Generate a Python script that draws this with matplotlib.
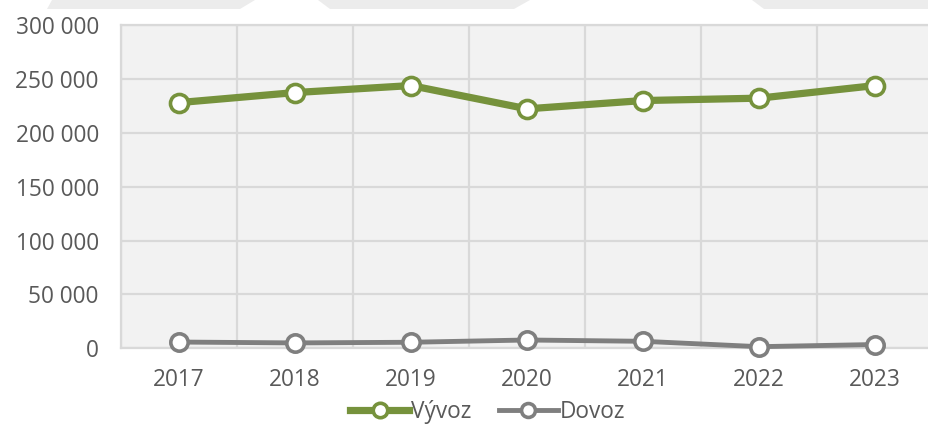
import matplotlib.pyplot as plt
from matplotlib.patches import Polygon
from matplotlib.ticker import FuncFormatter

years = ["2017", "2018", "2019", "2020", "2021", "2022", "2023"]
vyvoz = [228000, 237300, 243800, 222200, 229900, 232100, 243800]
dovoz = [5800, 5000, 5600, 7700, 6500, 1500, 3500]
y_ticks = [0, 50000, 100000, 150000, 200000, 250000, 300000]

GREEN = "#76923c"
GREY = "#7f7f7f"
TEXT = "#595959"

plt.rcParams["font.family"] = ["Open Sans", "DejaVu Sans"]

W, H = 929, 426
fig = plt.figure(figsize=(W / 100, H / 100), dpi=100)

# light decorative band at the very top (cut-off background)
band = "#ececec"
for xs in [(47, 240, 255, 52), (330, 514, 530, 318), (764, 929, 929, 752)]:
    x0, x1, x1t, x0t = xs
    pts = [(x0 / W, 1 - 9 / H), (x1 / W, 1 - 9 / H), (x1t / W, 1.0), (x0t / W, 1.0)]
    fig.patches.append(Polygon(pts, closed=True, transform=fig.transFigure,
                               facecolor=band, edgecolor="none"))

left, right = 121 / W, 933 / W
bottom, top = 1 - 348.3 / H, 1 - 25 / H
ax = fig.add_axes([left, bottom, right - left, top - bottom])
ax.set_facecolor("#f2f2f2")

x = list(range(len(years)))
ax.plot(x, vyvoz, color=GREEN, lw=5.2, marker="o", ms=13, mfc="white",
        mec=GREEN, mew=2.6, label="Vývoz", zorder=3, clip_on=False)
ax.plot(x, dovoz, color=GREY, lw=3.5, marker="o", ms=12.5, mfc="white",
        mec=GREY, mew=2.6, label="Dovoz", zorder=3, clip_on=False)

ax.set_xlim(-0.5, len(years) - 0.5)
ax.set_ylim(0, 300000)
ax.set_yticks(y_ticks)
ax.yaxis.set_major_formatter(FuncFormatter(lambda v, p: f"{int(v):,}".replace(",", " ")))
ax.set_xticks(x)
ax.set_xticklabels(years)
ax.set_xticks([i - 0.5 for i in range(len(years) + 1)], minor=True)

ax.grid(axis="y", which="major", color="#d9d9d9", lw=1.6)
ax.grid(axis="x", which="minor", color="#d9d9d9", lw=1.6)
ax.set_axisbelow(True)
for s in ax.spines.values():
    s.set_color("#d9d9d9")
    s.set_linewidth(1.6)
ax.spines["right"].set_visible(False)

ax.tick_params(axis="both", which="both", length=0, labelsize=16.3,
               labelcolor=TEXT)
ax.tick_params(axis="y", pad=16)
ax.tick_params(axis="x", pad=14)

fig.legend(loc="center", bbox_to_anchor=(488 / W, 1 - 412 / H), ncol=2,
           frameon=False, fontsize=16.3, labelcolor=TEXT, handlelength=2.6,
           handletextpad=0.1, columnspacing=1.2, markerscale=0.8)

fig.savefig("out.png", dpi=100)
